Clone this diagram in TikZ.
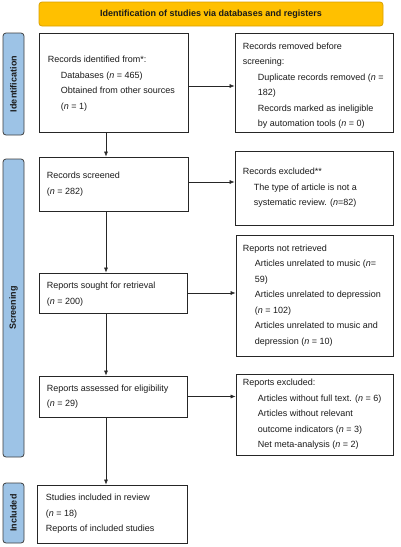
\documentclass[tikz,border=0pt]{standalone}
\usepackage{fontspec}
\setmainfont{Liberation Sans}
\usetikzlibrary{arrows.meta}
\definecolor{hdrfill}{HTML}{FFC000}
\definecolor{hdrdraw}{HTML}{D9A000}
\definecolor{sidefill}{HTML}{9DC3E6}
\definecolor{sidedraw}{HTML}{3F3F3F}
\definecolor{boxdraw}{HTML}{262626}
\definecolor{txt}{HTML}{1A1A1A}
\newcommand{\ind}{\hspace*{13pt}}
\newcommand{\indb}{\hspace*{15pt}}
\begin{document}
\begin{tikzpicture}[x=1pt,y=-1pt,
  flowbox/.style={draw=boxdraw, line width=0.8pt, inner sep=0pt},
  boxtext/.style={anchor=west, align=left, text=txt, inner sep=0pt,
    font=\fontsize{9}{15.5}\selectfont},
  sidebar/.style={draw=sidedraw, fill=sidefill, line width=0.8pt, rounded corners=3pt,
    inner sep=0pt},
  sidelabel/.style={rotate=90, font=\fontsize{9}{10}\selectfont\bfseries, text=txt},
  arr/.style={draw=boxdraw, line width=0.6pt, -{Latex[length=5pt,width=4pt]}}
]
\useasboundingbox (0,0) rectangle (400,547);

% header
\node[draw=hdrdraw, fill=hdrfill, line width=0.8pt, rounded corners=3pt,
  minimum width=344pt, minimum height=24pt, inner sep=0pt,
  font=\fontsize{9}{10}\selectfont\bfseries, text=txt] (hdr) at (211,14)
  {Identification of studies via databases and registers};

% side bars
\node[sidebar, minimum width=21pt, minimum height=102pt] (sbid) at (13.5,84) {};
\node[sidelabel] (lbid) at (sbid.center) {Identification};
\node[sidebar, minimum width=21pt, minimum height=298pt] (sbsc) at (13.5,308) {};
\node[sidelabel] (lbsc) at (sbsc.center) {Screening};
\node[sidebar, minimum width=21pt, minimum height=60pt] (sbin) at (13.5,513) {};
\node[sidelabel] (lbin) at (sbin.center) {Included};

% left column boxes
\node[flowbox, minimum width=149pt, minimum height=99pt] (b1) at (113.5,82.5) {};
\node[boxtext] (t1) at ([xshift=9pt,yshift=-1pt]b1.west)
{Records identified from*:\\
\ind Databases (\textit{n} = 465)\\
\ind Obtained from other sources\\
\ind (\textit{n} = 1)};

\node[flowbox, minimum width=149pt, minimum height=54pt] (b2) at (113.5,184) {};
\node[boxtext] (t2) at ([xshift=8pt]b2.west)
{Records screened\\
(\textit{n} = 282)};

\node[flowbox, minimum width=148pt, minimum height=40pt] (b3) at (113,293) {};
\node[boxtext] (t3) at ([xshift=8pt,yshift=-1pt]b3.west)
{Reports sought for retrieval\\
(\textit{n} = 200)};

\node[flowbox, minimum width=148pt, minimum height=41pt] (b4) at (113,396.5) {};
\node[boxtext] (t4) at ([xshift=8pt]b4.west)
{Reports assessed for eligibility\\
(\textit{n} = 29)};

\node[flowbox, minimum width=150pt, minimum height=58pt] (b5) at (112,514) {};
\node[boxtext] (t5) at ([xshift=9pt]b5.west)
{Studies included in review\\
(\textit{n} = 18)\\
Reports of included studies};

% right column boxes
\node[flowbox, minimum width=158pt, minimum height=99pt] (r1) at (314,82.5) {};
\node[boxtext] (u1) at ([xshift=8pt,yshift=-3pt]r1.west)
{Records removed before\\
screening:\\
\indb Duplicate records removed (\textit{n} =\\
\indb 182)\\
\indb Records marked as ineligible\\
\indb by automation tools (\textit{n} = 0)};

\node[flowbox, minimum width=158pt, minimum height=74pt] (r2) at (314,188) {};
\node[boxtext] (u2) at ([xshift=8pt]r2.west)
{Records excluded**\\
\hspace*{11pt}The type of article is not a\\
\hspace*{11pt}systematic review. (\textit{n}=82)};

\node[flowbox, minimum width=157pt, minimum height=121pt] (r3) at (314.5,295.5) {};
\node[boxtext] (u3) at ([xshift=7pt]r3.west)
{Reports not retrieved\\
\hspace*{12pt}Articles unrelated to music (\textit{n}=\\
\hspace*{12pt}59)\\
\hspace*{12pt}Articles unrelated to depression\\
\hspace*{12pt}(\textit{n} = 102)\\
\hspace*{12pt}Articles unrelated to music and\\
\hspace*{12pt}depression (\textit{n} = 10)};

\node[flowbox, minimum width=157pt, minimum height=81pt] (r4) at (314.5,414.5) {};
\node[boxtext] (u4) at ([xshift=7pt]r4.west)
{Reports excluded:\\
\indb Articles without full text. (\textit{n} = 6)\\
\indb Articles without relevant\\
\indb outcome indicators (\textit{n} = 3)\\
\indb Net meta-analysis (\textit{n} = 2)};

% connectors
\coordinate (vx) at (106,0);
\draw[arr] (b1.south -| vx) -- (b2.north -| vx);
\draw[arr] (b2.south -| vx) -- (b3.north -| vx);
\draw[arr] (b3.south -| vx) -- (b4.north -| vx);
\draw[arr] (b4.south -| vx) -- (b5.north -| vx);
\draw[arr] ([yshift=-3.5pt]b1.east) -- ([yshift=-3.5pt]b1.east -| r1.west);
\draw[arr] ([yshift=2pt]b2.east) -- ([yshift=2pt]b2.east -| r2.west);
\draw[arr] (b3.east) -- (b3.east -| r3.west);
\draw[arr] (b4.east) -- (b4.east -| r4.west);
\end{tikzpicture}
\end{document}
